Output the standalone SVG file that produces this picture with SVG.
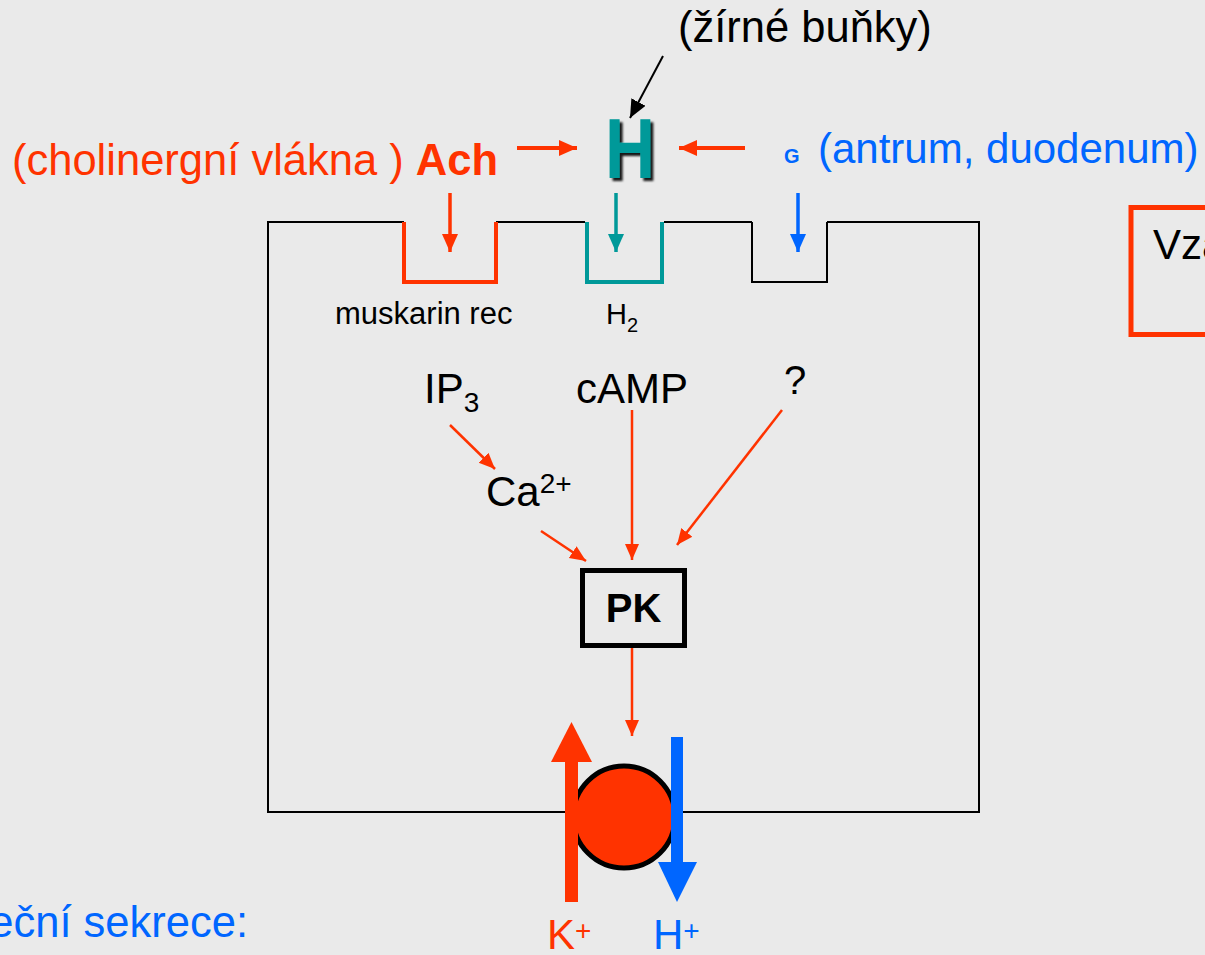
<svg xmlns="http://www.w3.org/2000/svg" width="1205" height="955" viewBox="0 0 1205 955">
<style>
text{font-family:"Liberation Sans",Arial,sans-serif;}
.lbl{font-size:42px;fill:#000;}
.big{font-size:43.5px;}
.red{fill:#ff3300;}
.blue{fill:#0066ff;}
.cell{fill:none;stroke:#000;stroke-width:2;}
.ar{stroke:#ff3300;stroke-width:2.5;fill:none;}
</style>
<defs>
<filter id="shadow" x="-20%" y="-20%" width="150%" height="150%"><feDropShadow dx="3" dy="3" stdDeviation="0.8" flood-color="#000" flood-opacity="0.9"/></filter>
<marker id="hR" markerUnits="userSpaceOnUse" markerWidth="20" markerHeight="16" refX="18" refY="8" orient="auto"><path d="M0,0 L18,8 L0,16 z" fill="#ff3300"/></marker>
<marker id="hRs" markerUnits="userSpaceOnUse" markerWidth="18" markerHeight="16" refX="16" refY="8" orient="auto"><path d="M0,1 L16,8 L0,15 z" fill="#ff3300"/></marker>
<marker id="hT" markerUnits="userSpaceOnUse" markerWidth="20" markerHeight="16" refX="18" refY="8" orient="auto"><path d="M0,0 L18,8 L0,16 z" fill="#009999"/></marker>
<marker id="hB" markerUnits="userSpaceOnUse" markerWidth="20" markerHeight="16" refX="18" refY="8" orient="auto"><path d="M0,0 L18,8 L0,16 z" fill="#0066ff"/></marker>
<marker id="hK" markerUnits="userSpaceOnUse" markerWidth="20" markerHeight="16" refX="18" refY="8" orient="auto"><path d="M0,0 L18,8 L0,16 z" fill="#000"/></marker>
</defs>
<rect width="1205" height="955" fill="#eaeaea"/>

<g id="cell">
<path class="cell" d="M404,222 H268 V812 H979 V222 H827 M752,222 H664 M585,222 H496"/>
<path d="M752,222 V282 H827 V222" class="cell"/>
</g>
<g id="muskarin-receptor">
<path d="M404,222 V282 H496 V222" fill="none" stroke="#ff3300" stroke-width="4"/>
<text x="335" y="324" style="font-size:31px">muskarin rec</text>
</g>
<g id="h2-receptor">
<path d="M587,222 V282 H662 V222" fill="none" stroke="#009999" stroke-width="4"/>
<text x="606" y="324" style="font-size:29px">H<tspan dy="8" style="font-size:20px">2</tspan></text>
</g>

<g id="ach"><text x="12" y="175" class="lbl big red">(cholinergní vlákna ) <tspan font-weight="bold">Ach</tspan></text></g>
<g id="histamine">
<text x="605" y="178" filter="url(#shadow)" style="font-size:86px;font-weight:bold;fill:#009999" textLength="50" lengthAdjust="spacingAndGlyphs">H</text>
</g>
<g id="mast-cells"><text x="678" y="42" class="lbl big">(žírné buňky)</text></g>
<g id="gastrin"><text x="784" y="163" style="font-size:20px;font-weight:bold" class="blue">G</text><text x="818" y="163" class="lbl blue">(antrum, duodenum)</text></g>

<g id="ip3"><text x="424" y="403" class="lbl">IP<tspan dy="9" style="font-size:28px">3</tspan></text></g>
<g id="camp"><text x="576" y="403" class="lbl">cAMP</text></g>
<g id="unknown"><text x="784" y="394" class="lbl" style="font-size:40px">?</text></g>
<g id="ca"><text x="486" y="506" class="lbl">Ca<tspan dy="-13" style="font-size:28px">2+</tspan></text></g>
<g id="pk">
<rect x="582.5" y="570.5" width="102" height="75" fill="none" stroke="#000" stroke-width="5"/>
<text x="633.5" y="622" text-anchor="middle" style="font-size:40px;font-weight:bold">PK</text>
</g>

<g id="pump">
<circle cx="624" cy="817" r="51" fill="#ff3300" stroke="#000" stroke-width="5"/>
<rect x="565" y="760" width="13" height="142" fill="#ff3300"/>
<path d="M551,762 L571.5,722 L592,762 z" fill="#ff3300"/>
<rect x="671" y="737" width="12" height="127" fill="#0066ff"/>
<path d="M658,862 L677,902 L697,862 z" fill="#0066ff"/>
</g>
<g id="k-ion"><text x="547" y="949" class="lbl red">K<tspan dy="-9" style="font-size:28px">+</tspan></text></g>
<g id="h-ion"><text x="653" y="949" class="lbl blue">H<tspan dy="-9" style="font-size:28px">+</tspan></text></g>

<g id="title"><text x="248" y="937" text-anchor="end" class="lbl big blue">eční sekrece:</text></g>
<g id="side-box">
<rect x="1131" y="207.5" width="100" height="127" fill="none" stroke="#ff3300" stroke-width="5"/>
<text x="1153" y="259" class="lbl">Vza</text>
</g>

<g id="connectors">
<line x1="517" y1="148" x2="577" y2="148" stroke="#ff3300" stroke-width="4" marker-end="url(#hR)"/>
<line x1="745" y1="148" x2="679" y2="148" stroke="#ff3300" stroke-width="4" marker-end="url(#hR)"/>
<line x1="663" y1="56" x2="630" y2="118" stroke="#000" stroke-width="2" marker-end="url(#hK)"/>
<line x1="450" y1="193" x2="450" y2="252" stroke="#ff3300" stroke-width="3.5" marker-end="url(#hR)"/>
<line x1="616" y1="193" x2="616" y2="252" stroke="#009999" stroke-width="3.5" marker-end="url(#hT)"/>
<line x1="798" y1="193" x2="798" y2="252" stroke="#0066ff" stroke-width="3.5" marker-end="url(#hB)"/>
<line class="ar" x1="450" y1="425" x2="495" y2="469" marker-end="url(#hRs)"/>
<line class="ar" x1="541" y1="531" x2="586" y2="561" marker-end="url(#hRs)"/>
<line class="ar" x1="632" y1="410" x2="632" y2="560" marker-end="url(#hRs)"/>
<line class="ar" x1="782" y1="410" x2="677" y2="545" marker-end="url(#hRs)"/>
<line class="ar" x1="632" y1="648" x2="632" y2="736" marker-end="url(#hRs)"/>
</g>
</svg>
